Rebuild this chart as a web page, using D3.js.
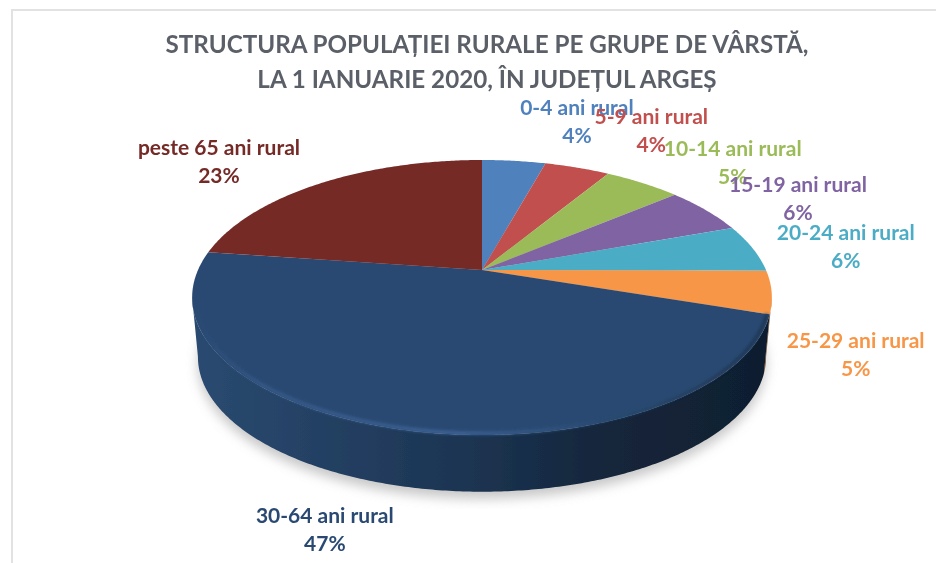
<!DOCTYPE html>
<html>
<head>
<meta charset="utf-8">
<script src="https://cdn.jsdelivr.net/npm/d3@7"></script>
<style>
    body { margin: 0; background: #fff; }
    text { font-family: Lato, "Open Sans", sans-serif; font-weight: 700; }
</style>
</head>
<body>
<svg width="936" height="563"></svg>
<script>
    var titleLines = ["STRUCTURA POPULAȚIEI RURALE PE GRUPE DE VÂRSTĂ,", "LA 1 IANUARIE 2020, ÎN JUDEȚUL ARGEȘ"];
    var ageGroups = ["0-4 ani rural", "5-9 ani rural", "10-14 ani rural", "15-19 ani rural", "20-24 ani rural", "25-29 ani rural", "30-64 ani rural", "peste 65 ani rural"];
    var shares = [4.3, 4.4, 5.2, 5.6, 5.6, 5.0, 47.1, 22.8];
    var colors = ["#4f81bd", "#c0504d", "#9bbb59", "#8064a2", "#4bacc6", "#f79646", "#2a4a72", "#752a28"];
    var sideColors = ["#4f81bd", "#c0504d", "#9bbb59", "#8064a2", "#4bacc6", "#8a5320", "url(#sideFill)", "#752a28"];

    // labels were placed by hand in the original, offset from the rim at mid slice
    var labelNudge = [[63, -53], [74, -51], [90, -34], [92, -25], [93, -15], [84, 49], [-77, 86], [-101, -35]];

    var svg = d3.select("svg");
    var width = +svg.attr("width"),
        height = +svg.attr("height");

    // the pie lies tilted in perspective: apex sits above the middle of the rim ellipse
    var apexX = 482,
        apexY = 270,
        radiusX = 284,
        radiusY = 132,
        tilt = 0.2,
        depth = 60,
        bottomScale = 0.98;

    function project(angle, drop, scale) {
        var u = Math.sin(angle),
            v = -Math.cos(angle),
            w = 1 - tilt * v;
        return [apexX + scale * radiusX * u / w, apexY + drop + scale * radiusY * v / w];
    }

    function topRim(a) { return project(a, 0, 1); }
    function bottomRim(a) { return project(a, depth, bottomScale); }

    function arcAngles(a0, a1) {
        var steps = Math.max(2, Math.ceil((a1 - a0) / 0.01));
        return d3.range(steps + 1).map(function(i) { return a0 + (a1 - a0) * i / steps; });
    }

    var line = d3.line();
    var deg = Math.PI / 180;
    var visibleFrom = 101.5 * deg,
        visibleTo = 258.5 * deg;

    var slices = d3.pie().sort(null)(shares).map(function(d, i) {
        return {
            name: ageGroups[i],
            share: shares[i],
            color: colors[i],
            side: sideColors[i],
            nudge: labelNudge[i],
            a0: d.startAngle,
            a1: d.endAngle
        };
    });

    var defs = svg.append("defs");

    var soft = defs.append("filter").attr("id", "soft");
    soft.append("feGaussianBlur").attr("stdDeviation", 0.7);

    var wide = defs.append("filter").attr("id", "wide")
        .attr("x", "-10%").attr("y", "-10%").attr("width", "120%").attr("height", "120%");
    wide.append("feGaussianBlur").attr("stdDeviation", 6);

    var rimBlur = defs.append("filter").attr("id", "rimBlur");
    rimBlur.append("feGaussianBlur").attr("stdDeviation", 1.6);

    var sideFill = defs.append("linearGradient")
        .attr("id", "sideFill")
        .attr("gradientUnits", "userSpaceOnUse")
        .attr("x1", 195).attr("x2", 770).attr("y1", 0).attr("y2", 0);
    [[0, "#2a4a70"], [0.25, "#233f61"], [0.5, "#1b3350"], [0.7, "#14263c"], [1, "#101e2e"]].forEach(function(s) {
        sideFill.append("stop").attr("offset", s[0]).attr("stop-color", s[1]);
    });

    var rimFill = defs.append("linearGradient")
        .attr("id", "rimFill")
        .attr("gradientUnits", "userSpaceOnUse")
        .attr("x1", 195).attr("x2", 770).attr("y1", 0).attr("y2", 0);
    [[0, "#2a4a72"], [0.12, "#35598a"], [0.45, "#3d659b"], [0.7, "#2a4a72"], [1, "#1c324e"]].forEach(function(s) {
        rimFill.append("stop").attr("offset", s[0]).attr("stop-color", s[1]);
    });

    svg.append("rect").attr("width", width).attr("height", height).attr("fill", "#fff");

    // frame of the pasted chart
    svg.append("path")
        .attr("d", line([[12, height], [12, 10], [width, 10]]))
        .attr("fill", "none")
        .attr("stroke", "#e2e2e2")
        .attr("stroke-width", 2);

    var chart = svg.append("g").attr("filter", "url(#soft)");

    // shadow under the pie
    var wholeCircle = arcAngles(0, 2 * Math.PI);
    chart.append("path")
        .attr("d", line(wholeCircle.map(function(a) {
            return project(a, depth + 7, bottomScale);
        })) + "Z")
        .attr("fill", "#9a9a9a")
        .attr("opacity", 0.55)
        .attr("filter", "url(#wide)");

    // walls, only the part facing the viewer
    chart.append("g").selectAll("path")
        .data(slices.filter(function(d) { return d.a1 > visibleFrom && d.a0 < visibleTo; })).enter()
        .append("path")
        .attr("d", function(d) {
            var angles = arcAngles(Math.max(d.a0, visibleFrom), Math.min(d.a1, visibleTo));
            var pts = angles.map(topRim).concat(angles.slice().reverse().map(bottomRim));
            return line(pts) + "Z";
        })
        .attr("fill", function(d) { return d.side; });

    // top face
    chart.append("g").selectAll("path")
        .data(slices).enter()
        .append("path")
        .attr("d", function(d) {
            return line([[apexX, apexY]].concat(arcAngles(d.a0, d.a1).map(topRim))) + "Z";
        })
        .attr("fill", function(d) { return d.color; });

    // lit bevel along the front edge
    var frontSlice = slices[6];
    chart.append("path")
        .attr("d", line(arcAngles(Math.max(frontSlice.a0, visibleFrom), visibleTo - 6 * deg).map(function(a) {
            return project(a, 0, 0.99);
        })))
        .attr("fill", "none")
        .attr("stroke", "url(#rimFill)")
        .attr("stroke-width", 3)
        .attr("filter", "url(#rimBlur)");

    // title
    svg.append("g").attr("filter", "url(#soft)")
        .selectAll("text")
        .data(titleLines).enter()
        .append("text")
        .attr("x", 487)
        .attr("y", function(d, i) { return 53 + i * 35; })
        .attr("text-anchor", "middle")
        .attr("font-size", 24.2)
        .attr("fill", "#5a5f68")
        .text(function(d) { return d; });

    // data labels
    var labels = svg.append("g").attr("filter", "url(#soft)")
        .selectAll("g")
        .data(slices).enter()
        .append("g")
        .attr("transform", function(d) {
            var rim = topRim((d.a0 + d.a1) / 2);
            return "translate(" + (rim[0] + d.nudge[0]) + "," + (rim[1] + d.nudge[1]) + ")";
        })
        .attr("text-anchor", "middle")
        .attr("font-size", 21)
        .attr("fill", function(d) { return d.color; });

    labels.append("text")
        .attr("y", 7)
        .text(function(d) { return d.name; });

    labels.append("text")
        .attr("y", 35)
        .text(function(d) { return d3.format(".0f")(d.share) + "%"; });
</script>
</body>
</html>
